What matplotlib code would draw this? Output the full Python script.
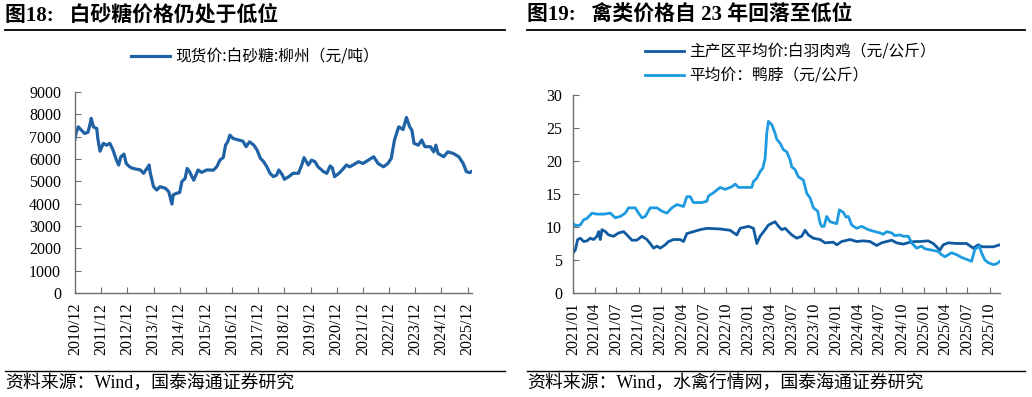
import matplotlib
matplotlib.use("Agg")
import matplotlib.pyplot as plt
from matplotlib.lines import Line2D
import pandas as pd

plt.rcParams['font.family'] = ['Liberation Serif', 'Noto Sans CJK SC', 'DejaVu Sans']

# ---------------- data: sugar (元/吨) ----------------
sugar_dates = [
    "2010-12-01", "2010-12-15", "2011-01-15", "2011-03-01", "2011-04-15", "2011-06-01", "2011-07-01",
    "2011-07-15", "2011-08-15", "2011-10-01", "2011-10-15", "2011-11-15", "2012-01-01", "2012-02-15",
    "2012-04-01", "2012-05-15", "2012-07-01", "2012-08-01", "2012-09-01", "2012-10-15", "2012-11-15",
    "2013-01-01", "2013-02-15", "2013-06-01", "2013-07-15", "2013-09-01", "2013-10-01", "2013-10-15",
    "2013-12-01", "2014-01-15", "2014-03-01", "2014-05-15", "2014-07-01", "2014-08-15", "2014-09-01",
    "2014-10-15", "2014-12-01", "2015-01-01", "2015-02-15", "2015-03-15", "2015-04-15", "2015-06-15",
    "2015-08-15", "2015-10-01", "2015-12-15", "2016-03-15", "2016-05-01", "2016-06-15", "2016-08-01",
    "2016-09-01", "2016-10-01", "2016-11-01", "2016-12-15", "2017-03-01", "2017-05-01", "2017-06-15",
    "2017-08-01", "2017-10-01", "2017-11-15", "2018-01-01", "2018-02-15", "2018-04-01", "2018-05-15",
    "2018-07-01", "2018-08-15", "2018-09-15", "2018-11-01", "2018-12-01", "2019-02-01", "2019-04-01",
    "2019-06-15", "2019-08-01", "2019-09-01", "2019-11-01", "2019-12-15", "2020-02-01", "2020-03-15",
    "2020-06-01", "2020-07-15", "2020-09-01", "2020-10-01", "2020-11-01", "2021-01-01", "2021-02-15",
    "2021-04-15", "2021-06-01", "2021-07-15", "2021-10-01", "2021-12-01", "2022-02-15", "2022-05-01",
    "2022-07-01", "2022-09-15", "2022-11-15", "2023-01-01", "2023-02-15", "2023-04-15", "2023-06-15",
    "2023-08-01", "2023-09-15", "2023-10-15", "2023-11-15", "2024-01-15", "2024-03-01", "2024-04-15",
    "2024-07-01", "2024-08-15", "2024-09-15", "2024-10-15", "2025-01-01", "2025-03-01", "2025-05-15",
    "2025-08-01", "2025-10-01", "2025-11-15", "2026-01-01", "2026-02-15",
]
sugar_price = [
    6900, 7150, 7440, 7290, 7140, 7200, 7590,
    7820, 7440, 7360, 6920, 6350, 6700, 6620,
    6700, 6400, 5950, 5730, 6100, 6220, 5800,
    5650, 5580, 5510, 5360, 5580, 5730, 5400,
    4760, 4610, 4760, 4690, 4540, 3980, 4390,
    4460, 4500, 4990, 5130, 5580, 5450, 5050,
    5510, 5400, 5510, 5500, 5650, 5950, 6070,
    6620, 6770, 7070, 6920, 6850, 6800, 6550,
    6770, 6620, 6400, 6030, 5880, 5650, 5360,
    5210, 5280, 5510, 5300, 5090, 5210, 5360,
    5360, 5730, 6060, 5730, 5950, 5880, 5650,
    5430, 5360, 5690, 5600, 5210, 5360, 5510,
    5730, 5650, 5730, 5880, 5800, 5950, 6100,
    5800, 5650, 5800, 6030, 6850, 7440, 7320,
    7860, 7440, 7300, 6700, 6620, 6850, 6550,
    6550, 6320, 6620, 6250, 6100, 6320, 6250,
    6100, 5800, 5430, 5390, 5480,
]
sugar_label = "现货价:白砂糖:柳州（元/吨）"
sugar_ticks = ["2010/12", "2011/12", "2012/12", "2013/12", "2014/12", "2015/12", "2016/12", "2017/12",
               "2018/12", "2019/12", "2020/12", "2021/12", "2022/12", "2023/12", "2024/12", "2025/12"]

# ---------------- data: poultry (元/公斤), time in months since 2021-01 ----------------
duck_t = [0, 0.32, 1.0, 1.46, 1.91, 2.6, 3.28, 4.19, 5.1, 5.78, 6.47, 7.15, 7.6, 8.52, 8.97, 9.43, 9.88,
          10.56, 11.48, 12.16, 12.84, 13.52, 14.21, 15.12, 15.57, 16.03, 16.48, 17.62, 18.31, 18.53,
          19.22, 20.13, 20.81, 21.72, 22.18, 22.63, 23.32, 24.45, 24.68, 25.14, 25.59, 25.96, 26.28,
          26.5, 26.73, 27.19, 27.64, 27.87, 28.32, 28.78, 29.23, 29.69, 29.92, 30.37, 30.83, 31.51,
          31.97, 32.42, 32.88, 33.47, 33.79, 34.02, 34.34, 34.7, 35.15, 36.07, 36.43, 36.98, 37.34,
          37.66, 38.11, 38.8, 39.48, 40.39, 41.3, 41.99, 42.44, 42.9, 43.58, 44.03, 44.72, 45.17,
          45.86, 46.31, 46.99, 47.68, 48.13, 49.04, 49.95, 50.41, 50.87, 51.78, 52.46, 53.14, 54.05,
          54.51, 54.96, 55.56, 55.87, 56.33, 56.78, 57.47, 57.92, 58.38]
duck_price = [10.6, 10.2, 10.3, 11.1, 11.3, 12.1, 11.95, 11.95, 12.1, 11.4, 11.6, 12.1, 12.9, 12.9, 12.1,
              11.4, 11.6, 12.9, 12.9, 12.4, 12.1, 12.9, 13.4, 13.1, 14.6, 14.6, 13.7, 13.7, 13.9, 14.7,
              15.2, 16.0, 15.7, 16.1, 16.5, 16.0, 16.0, 16.0, 16.9, 17.4, 18.4, 18.9, 20.4,
              24.2, 26.0, 25.5, 24.2, 23.3, 22.7, 21.7, 21.4, 20.2, 19.1, 18.7, 17.6, 17.1,
              15.1, 14.4, 12.9, 12.4, 10.6, 10.1, 10.1, 11.6, 10.8, 10.5, 12.6, 12.2, 11.5,
              11.6, 10.3, 9.8, 10.1, 9.6, 9.3, 9.1, 8.9, 9.3, 9.1, 8.7, 8.8, 8.6,
              8.6, 7.6, 6.8, 7.1, 6.7, 6.5, 6.3, 5.8, 5.5, 6.1, 5.8, 5.4, 5.0,
              4.8, 6.6, 7.1, 6.1, 5.0, 4.6, 4.3, 4.4, 4.8]
chicken_t = [0, 0.32, 0.64, 1.0, 1.46, 1.91, 2.37, 2.82, 3.28, 3.51, 3.73, 3.96, 4.42, 4.87, 5.56, 6.24,
             6.92, 7.38, 8.06, 8.74, 9.43, 10.11, 10.56, 11.02, 11.48, 11.93, 12.61, 13.07, 13.75, 14.66,
             15.12, 15.57, 16.48, 17.4, 18.31, 20.13, 21.49, 22.4, 22.86, 24.0, 24.68, 25.14, 25.59,
             26.28, 26.73, 27.64, 28.1, 28.55, 29.01, 29.92, 30.6, 31.28, 31.74, 32.19, 32.88, 33.79,
             34.47, 35.61, 36.07, 36.75, 37.89, 38.8, 39.71, 40.62, 41.53, 42.21, 42.9, 43.58, 44.26,
             45.17, 46.08, 46.77, 47.45, 48.59, 49.27, 50.18, 50.64, 51.32, 52.46, 53.83, 54.74, 55.42,
             55.97, 57.47, 58.38]
chicken_price = [6.05, 6.55, 8.1, 8.3, 7.8, 7.9, 8.3, 8.1, 8.6, 9.3, 8.1, 9.6, 9.3, 8.8, 8.6, 9.1,
                 9.3, 8.8, 8.0, 8.0, 8.6, 8.1, 7.5, 6.8, 7.1, 6.8, 7.3, 7.8, 8.1, 8.1,
                 7.8, 9.0, 9.3, 9.6, 9.8, 9.7, 9.5, 8.8, 9.8, 10.1, 9.8, 7.5, 8.6,
                 9.6, 10.3, 10.8, 10.1, 9.6, 9.8, 8.8, 8.3, 8.6, 9.5, 8.8, 8.3, 8.1,
                 7.6, 7.7, 7.3, 7.8, 8.1, 7.8, 7.9, 7.8, 7.2, 7.6, 7.8, 8.0, 7.6,
                 7.4, 7.7, 7.8, 7.8, 7.9, 7.5, 6.5, 7.3, 7.6, 7.5, 7.5, 6.8, 7.3,
                 7.0, 7.0, 7.3]
chicken_label = "主产区平均价:白羽肉鸡（元/公斤）"
duck_label = "平均价：鸭脖（元/公斤）"
poultry_ticks = ["2021/01", "2021/04", "2021/07", "2021/10", "2022/01", "2022/04", "2022/07", "2022/10",
                 "2023/01", "2023/04", "2023/07", "2023/10", "2024/01", "2024/04", "2024/07", "2024/10",
                 "2025/01", "2025/04", "2025/07", "2025/10"]

title_left = "图18:   白砂糖价格仍处于低位"
title_right = "图19:   禽类价格自 23 年回落至低位"
source_left = "资料来源：Wind，国泰海通证券研究"
source_right = "资料来源：Wind，水禽行情网，国泰海通证券研究"

# ---------------- figure ----------------
W, H = 1032, 397
fig = plt.figure(figsize=(W / 100, H / 100), dpi=100)
fig.patch.set_facecolor("white")

def fx(px):
    return px / W

def fy(py):
    return 1 - py / H

SUGAR_C = "#1f62a6"
CHICK_C = "#0f5aa0"
DUCK_C = "#1e9be0"
SPINE_C = "#6e6e6e"
TICK_FS = 11.5

def style_axes(ax, ypad):
    for s in ("top", "right"):
        ax.spines[s].set_visible(False)
    for s in ("left", "bottom"):
        ax.spines[s].set_color(SPINE_C)
        ax.spines[s].set_linewidth(1.0)
    ax.tick_params(axis="both", direction="in", colors="black", labelsize=TICK_FS,
                   length=4, width=0.8, color=SPINE_C)
    ax.tick_params(axis="y", pad=ypad)
    ax.tick_params(axis="x", labelrotation=90, pad=7)

LEG_PROP = {"family": ["Noto Sans CJK SC"], "size": 11.3}

# ---- left: sugar ----
axL = fig.add_axes([fx(75), fy(293), fx(472) - fx(75), fy(92) - fy(293)])
sd = pd.to_datetime(sugar_dates)
axL.plot(sd, sugar_price, color=SUGAR_C, lw=2.3, solid_joinstyle="round", label=sugar_label)
axL.set_ylim(0, 9000)
axL.set_yticks(range(0, 9001, 1000))
tick_pos_L = pd.to_datetime([t.replace("/", "-") + "-01" for t in sugar_ticks])
axL.set_xticks(tick_pos_L)
axL.set_xticklabels(sugar_ticks)
axL.set_xlim(pd.Timestamp("2010-12-01"), pd.Timestamp("2026-02-01"))
style_axes(axL, 10)
axL.legend(loc="center", bbox_to_anchor=(fx(255), fy(57)), bbox_transform=fig.transFigure,
           frameon=False, handlelength=2.5, handletextpad=0.35, borderpad=0, prop=LEG_PROP)

# ---- right: poultry ----
axR = fig.add_axes([fx(573), fy(293), fx(1000) - fx(573), fy(95) - fy(293)])
base = pd.Timestamp("2021-01-01")
ct = base + pd.to_timedelta([t * 30.44 for t in chicken_t], unit="D")
dt = base + pd.to_timedelta([t * 30.44 for t in duck_t], unit="D")
axR.plot(ct, chicken_price, color=CHICK_C, lw=2.0, label=chicken_label)
axR.plot(dt, duck_price, color=DUCK_C, lw=2.0, label=duck_label)
axR.set_ylim(0, 30)
axR.set_yticks(range(0, 31, 5))
tick_pos_R = pd.to_datetime([t.replace("/", "-") + "-01" for t in poultry_ticks])
axR.set_xticks(tick_pos_R)
axR.set_xticklabels(poultry_ticks)
axR.set_xlim(base, base + pd.to_timedelta(58.4 * 30.44, unit="D"))
style_axes(axR, 8)
axR.legend(loc="upper left", bbox_to_anchor=(fx(637), fy(36)), bbox_transform=fig.transFigure,
           frameon=False, handlelength=2.5, handletextpad=0.35, borderpad=0, labelspacing=0.45,
           prop=LEG_PROP)

# ---- titles, rules, sources ----
tprops = dict(fontsize=15, fontweight="bold", va="center", ha="left",
              family=["Liberation Serif", "Noto Sans CJK SC"])
fig.text(fx(5), fy(15), title_left, **tprops)
fig.text(fx(527), fy(15), title_right, **tprops)

for x0, x1 in ((5, 505), (527, 1025)):
    fig.add_artist(Line2D([fx(x0), fx(x1)], [fy(30), fy(30)], color="black", lw=1.3))
    fig.add_artist(Line2D([fx(x0), fx(x1)], [fy(371), fy(371)], color="black", lw=1.0))

sprops = dict(fontsize=12.9, va="center", ha="left", family=["Liberation Serif", "Noto Sans CJK SC"])
fig.text(fx(5), fy(383), source_left, **sprops)
fig.text(fx(527), fy(383), source_right, **sprops)

fig.savefig("out.png", dpi=100, facecolor="white")
